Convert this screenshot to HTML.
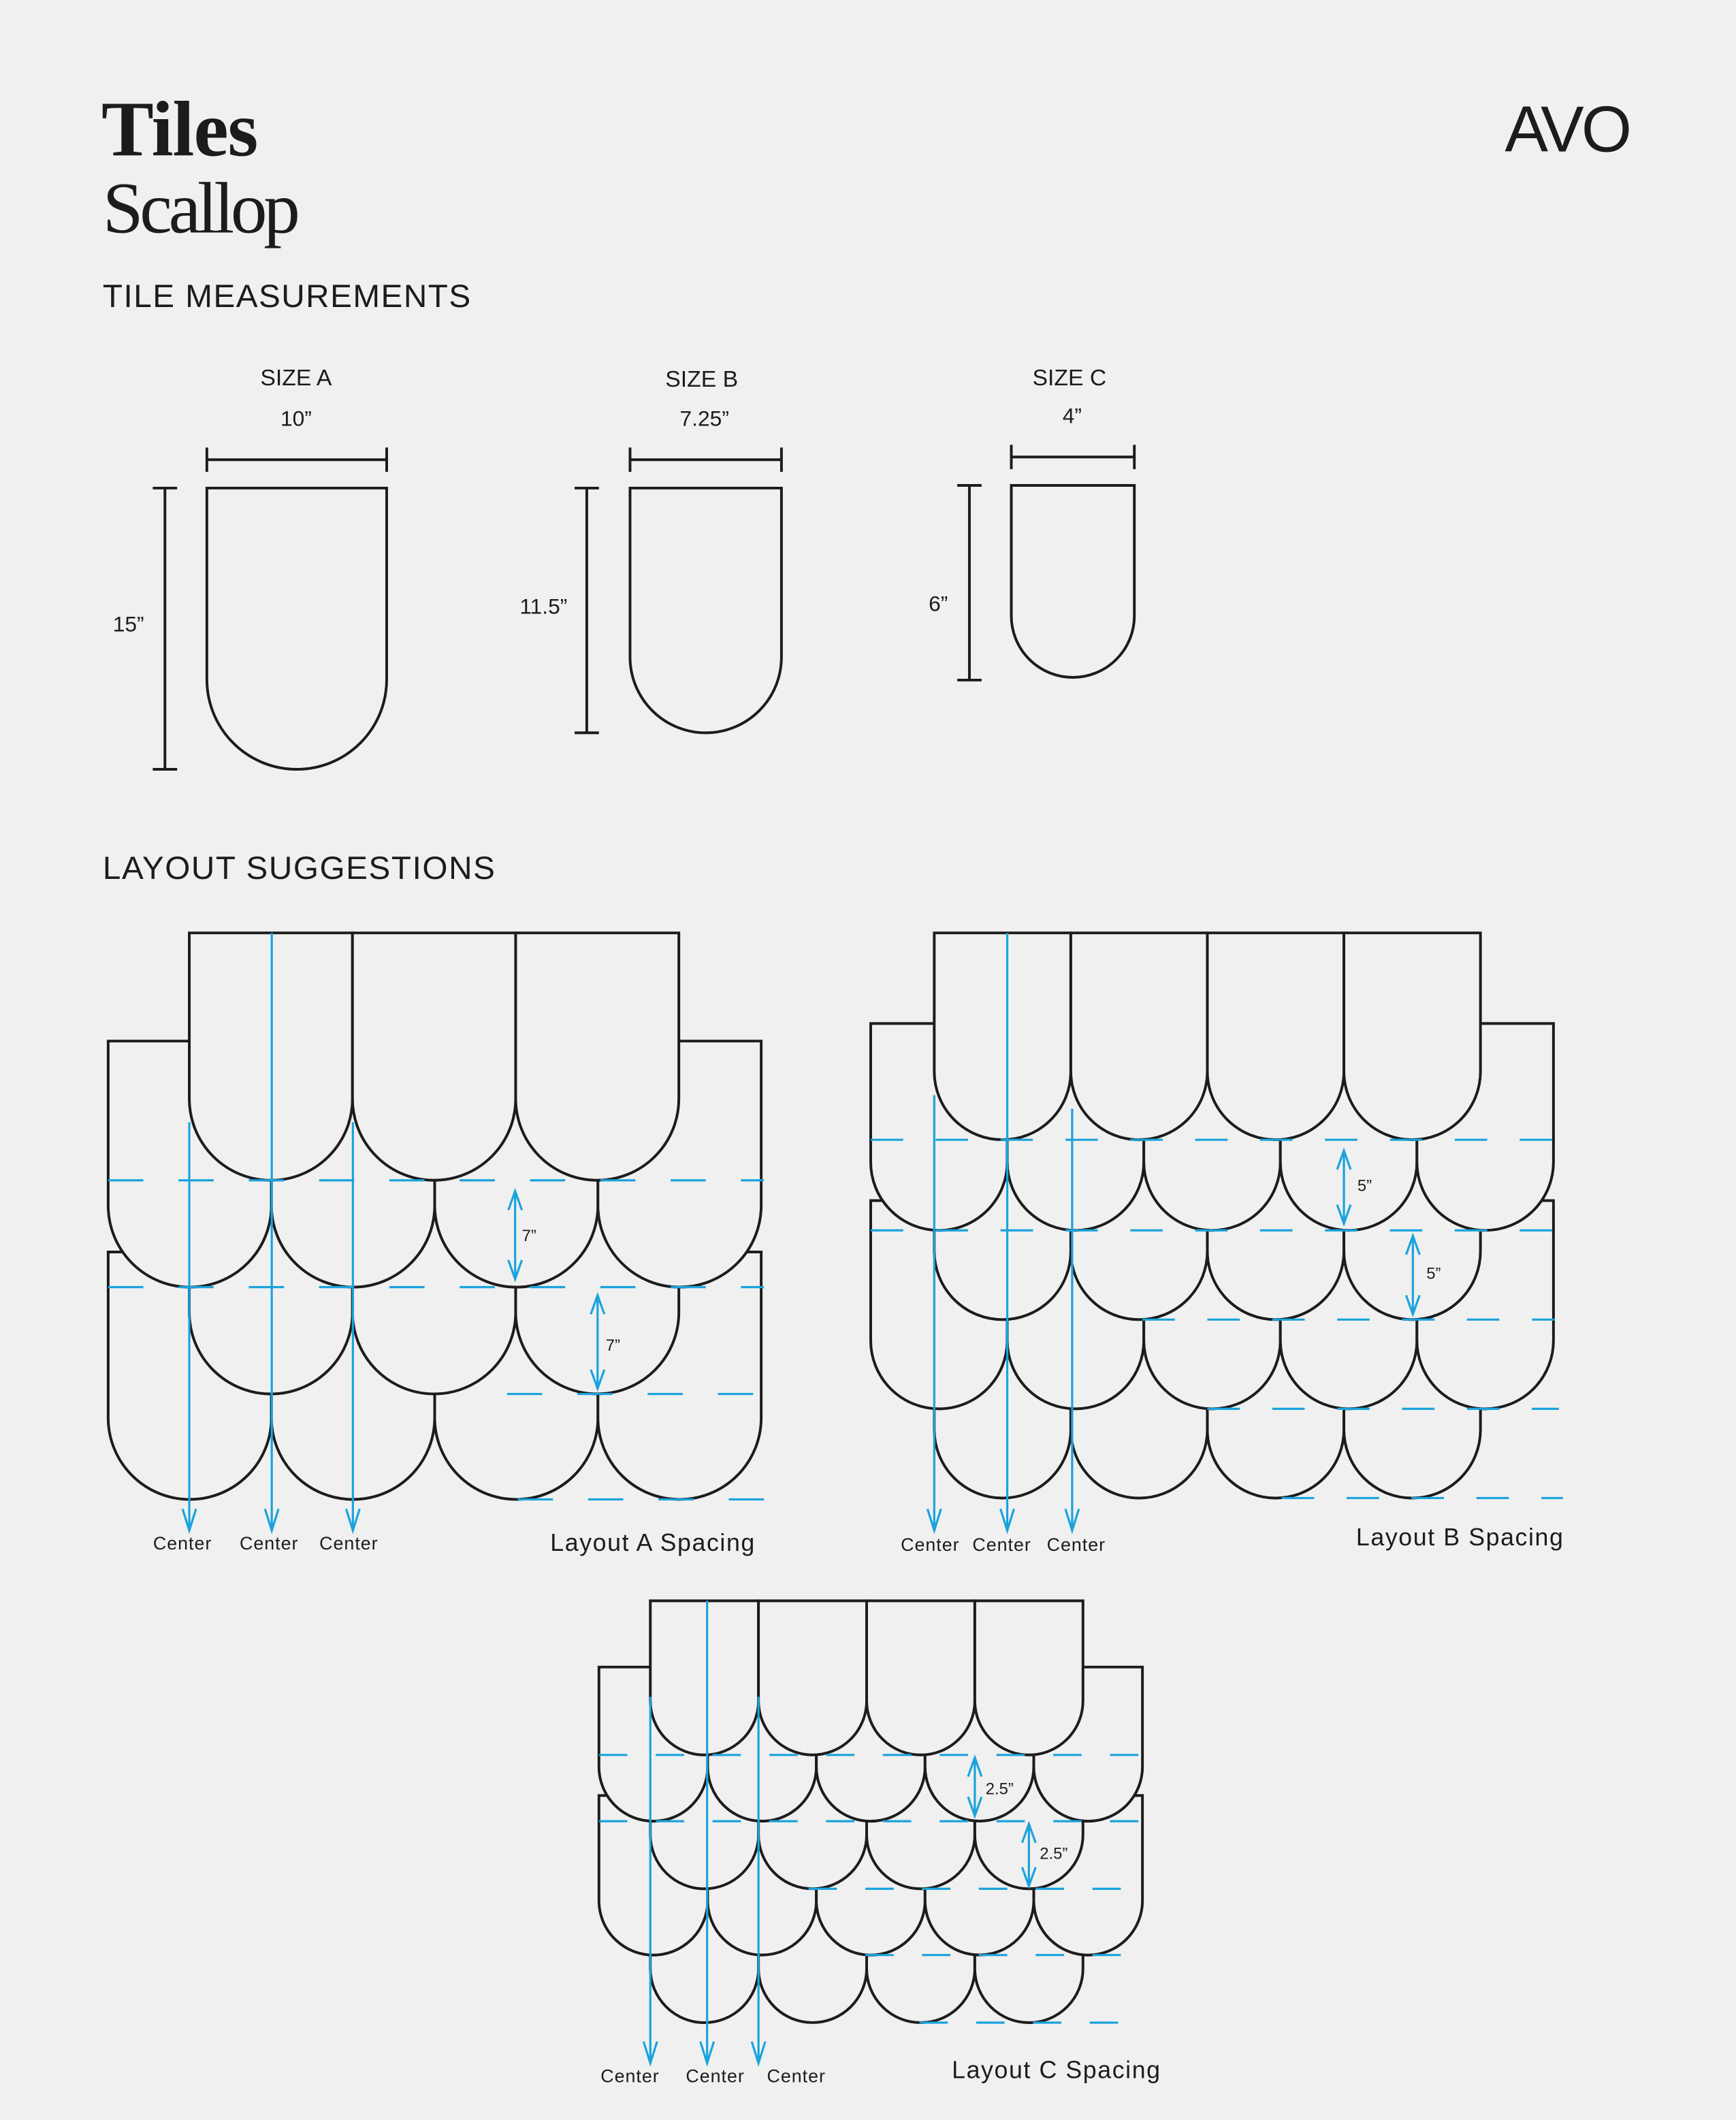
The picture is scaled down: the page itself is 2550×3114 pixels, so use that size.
<!DOCTYPE html>
<html><head><meta charset="utf-8"><style>
html,body{margin:0;padding:0;background:#f0f0f0;}
svg{display:block}
text{font-family:"Liberation Sans",sans-serif;fill:#1c1c1c}
.serif{font-family:"Liberation Serif",serif}
</style></head><body>
<svg id="s" width="2550" height="3114" viewBox="0 0 1284 1568" xmlns="http://www.w3.org/2000/svg">
<rect width="1284" height="1568" fill="#f0f0f0"/>
<text class="serif" x="75" y="115" font-size="58" font-weight="bold" textLength="116">Tiles</text>
<text class="serif" x="76" y="172" font-size="54" textLength="146">Scallop</text>
<text x="76" y="227" font-size="24" textLength="272">TILE MEASUREMENTS</text>
<text x="76" y="650" font-size="24" textLength="290">LAYOUT SUGGESTIONS</text>
<text x="1113" y="112" font-size="48" textLength="94" fill="#2a2a2a" style="font-weight:normal">AVO</text>

<g fill="none" stroke="#1c1c1c" stroke-width="2">
<path d="M153 361H286V502.5A66.5 66.5 0 0 1 153 502.5Z"/>
<path d="M153 340H286M153 331V349M286 331V349"/>
<path d="M122 361V569M113 361H131M113 569H131"/>
<path d="M466 361H578V486A56 56 0 0 1 466 486Z"/>
<path d="M466 340H578M466 331V349M578 331V349"/>
<path d="M434 361V542M425 361H443M425 542H443"/>
<path d="M748 359H839V455.5A45.5 45.5 0 0 1 748 455.5Z"/>
<path d="M748 338H839M748 329V347M839 329V347"/>
<path d="M717 359V503M708 359H726M708 503H726"/>
</g>
<g font-size="17" text-anchor="middle">
<text x="219" y="285">SIZE A</text><text x="219" y="315" font-size="16">10”</text>
<text x="95" y="467" font-size="16">15”</text>
<text x="519" y="286">SIZE B</text><text x="521" y="315" font-size="16">7.25”</text>
<text x="402" y="454" font-size="16">11.5”</text>
<text x="791" y="285">SIZE C</text><text x="793" y="313" font-size="16">4”</text>
<text x="694" y="452" font-size="16">6”</text>
</g>
<g id="draw"></g>
<g font-size="13.5" text-anchor="middle" letter-spacing="0.5">
<text x="135" y="1146">Center</text><text x="199" y="1146">Center</text><text x="258" y="1146">Center</text>
<text x="688" y="1147">Center</text><text x="741" y="1147">Center</text><text x="796" y="1147">Center</text>
<text x="466" y="1540">Center</text><text x="529" y="1540">Center</text><text x="589" y="1540">Center</text>
</g>
<g font-size="18" letter-spacing="0.8">
<text x="407" y="1147">Layout A Spacing</text>
<text x="1003" y="1143">Layout B Spacing</text>
<text x="704" y="1537">Layout C Spacing</text>
</g>
<g font-size="12">
<text x="386" y="918">7”</text><text x="448" y="999">7”</text>
<text x="1004" y="881">5”</text><text x="1055" y="946">5”</text>
<text x="729" y="1327">2.5”</text><text x="769" y="1375">2.5”</text>
</g>
</svg>
<script>
var NS="http://www.w3.org/2000/svg",g=document.getElementById("draw"),out="";
function tiles(x0,n,w,top,bot){var r=w/2;for(var i=0;i<n;i++){var x=x0+i*w;
out+='<path d="M'+x+' '+top+'H'+(x+w)+'V'+(bot-r)+'A'+r+' '+r+' 0 0 1 '+x+' '+(bot-r)+'Z" fill="#f0f0f0" stroke="#1c1c1c" stroke-width="2"/>';}}
function dash(y,x1,x2,d){out+='<path d="M'+x1+' '+y+'H'+x2+'" stroke="#1aa3dc" stroke-width="1.6" stroke-dasharray="'+d+' '+d+'"/>';}
function vline(x,y1,y2){out+='<path d="M'+x+' '+y1+'V'+y2+'M'+(x-5)+' '+(y2-16)+'L'+x+' '+y2+'L'+(x+5)+' '+(y2-16)+'" fill="none" stroke="#1aa3dc" stroke-width="1.6"/>';}
function dbl(x,y1,y2){out+='<path d="M'+x+' '+y1+'V'+y2+'M'+(x-5)+' '+(y1+14)+'L'+x+' '+y1+'L'+(x+5)+' '+(y1+14)+'M'+(x-5)+' '+(y2-14)+'L'+x+' '+y2+'L'+(x+5)+' '+(y2-14)+'" fill="none" stroke="#1aa3dc" stroke-width="1.6"/>';}
// Layout A
var wa=120.75;
tiles(80,4,wa,926,1109);tiles(140,3,120.7,850,1031);tiles(80,4,wa,770,952);tiles(140,3,120.7,690,873);
dash(873,80,565,26);dash(952,80,565,26);dash(1031,375,565,26);dash(1109,383,568,26);
vline(140,830,1132);vline(201,690,1132);vline(261,830,1132);
dbl(381,881,946);dbl(442,958,1027);
// Layout B
tiles(691,4,101,960,1108);tiles(644,5,101,888,1042);tiles(691,4,101,820,976);tiles(644,5,101,757,910);tiles(691,4,101,690,843);
dash(843,644,1150,24);dash(910,644,1150,24);dash(976,845,1150,24);dash(1042,893,1153,24);dash(1108,948,1156,24);
vline(691,810,1132);vline(745,690,1132);vline(793,820,1132);
dbl(994,851,905);dbl(1045,914,972);
// Layout C
tiles(481,4,80,1400,1496);tiles(443,5,80.4,1328,1446);tiles(481,4,80,1290,1397);tiles(443,5,80.4,1233,1347);tiles(481,4,80,1184,1298);
dash(1298,443,845,21);dash(1347,443,845,21);dash(1397,598,845,21);dash(1446,640,845,21);dash(1496,680,845,21);
vline(481,1255,1526);vline(523,1184,1526);vline(561,1255,1526);
dbl(721,1300,1343);dbl(761,1349,1395);
g.innerHTML=out;
</script>
</body></html>
